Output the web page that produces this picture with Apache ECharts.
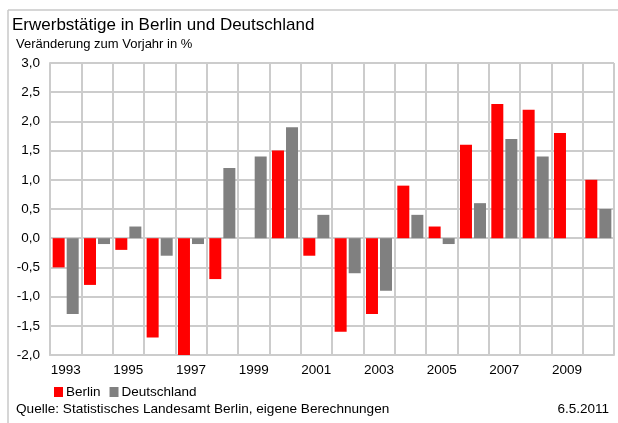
<!DOCTYPE html>
<html>
<head>
<meta charset="utf-8">
<script src="https://cdn.jsdelivr.net/npm/echarts@6/dist/echarts.min.js"></script>
<style>html,body{margin:0;padding:0;background:#fff}#c{width:618px;height:423px}</style>
</head>
<body>
<div id="c"></div>
<script>
var years = ['1993','1994','1995','1996','1997','1998','1999','2000','2001','2002','2003','2004','2005','2006','2007','2008','2009','2010'];
var berlin = [-0.5,-0.8,-0.2,-1.7,-2.0,-0.7,0.0,1.5,-0.3,-1.6,-1.3,0.9,0.2,1.6,2.3,2.2,1.8,1.0];
var deutschland = [-1.3,-0.1,0.2,-0.3,-0.1,1.2,1.4,1.9,0.4,-0.6,-0.9,0.4,-0.1,0.6,1.7,1.4,0.0,0.5];
var yTicks = [-2.0,-1.5,-1.0,-0.5,0.0,0.5,1.0,1.5,2.0,2.5,3.0];

var FONT = '"Liberation Sans", Arial, sans-serif';
var GRID = '#cccccc';
var chart = echarts.init(document.getElementById('c'), null, {renderer:'canvas'});
chart.setOption({
  animation: false,
  backgroundColor: '#ffffff',
  textStyle: {fontFamily: FONT},
  title: [
    {text: 'Erwerbstätige in Berlin und Deutschland', left: 12, top: 17, padding: 0,
     textStyle: {fontFamily: FONT, fontSize: 17, fontWeight: 'normal', color: '#000'}},
    {text: 'Veränderung zum Vorjahr in %', left: 16, top: 38, padding: 0,
     textStyle: {fontFamily: FONT, fontSize: 13, fontWeight: 'normal', color: '#000'}},
    {text: 'Quelle: Statistisches Landesamt Berlin, eigene Berechnungen', left: 16, top: 402, padding: 0,
     textStyle: {fontFamily: FONT, fontSize: 13.6, fontWeight: 'normal', color: '#000'}},
    {text: '6.5.2011', right: 9, top: 402, padding: 0,
     textStyle: {fontFamily: FONT, fontSize: 13.5, fontWeight: 'normal', color: '#000'}}
  ],
  graphic: [
    {type: 'line', shape: {x1: 8, y1: 10, x2: 618, y2: 10}, style: {stroke: '#c8c8c8', lineWidth: 1.5}},
    {type: 'line', shape: {x1: 8, y1: 10, x2: 8, y2: 423}, style: {stroke: '#c8c8c8', lineWidth: 1.5}}
  ],
  legend: {
    left: 54, top: 385, padding: 0, itemWidth: 9, itemHeight: 10, itemGap: 9, icon: 'rect',
    textStyle: {fontFamily: FONT, fontSize: 13.5, color: '#000', padding: [0,0,0,-2]},
    data: ['Berlin', 'Deutschland']
  },
  grid: {left: 50, right: 4, top: 63, bottom: 68, containLabel: false},
  xAxis: {
    type: 'category', data: years, boundaryGap: true,
    axisLine: {show: true, onZero: false, lineStyle: {color: GRID, width: 2}},
    axisTick: {show: false},
    axisLabel: {interval: 1, margin: 8, fontFamily: FONT, fontSize: 13.5, color: '#000'},
    splitLine: {show: true, interval: 0, lineStyle: {color: GRID, width: 2}}
  },
  yAxis: {
    type: 'value', min: -2, max: 3, interval: 0.5,
    axisLine: {show: true, lineStyle: {color: GRID, width: 2}},
    axisTick: {show: false},
    axisLabel: {margin: 10, fontFamily: FONT, fontSize: 13.5, color: '#000',
      formatter: function (v) { return v.toFixed(1).replace('.', ','); }},
    splitLine: {show: true, lineStyle: {color: GRID, width: 2}}
  },
  series: [
    {name: 'Berlin', type: 'bar', data: berlin, barWidth: 12, barGap: '17%',
     itemStyle: {color: '#ff0000'}},
    {name: 'Deutschland', type: 'bar', data: deutschland, barWidth: 12,
     itemStyle: {color: '#808080'}}
  ]
});
</script>
</body>
</html>
